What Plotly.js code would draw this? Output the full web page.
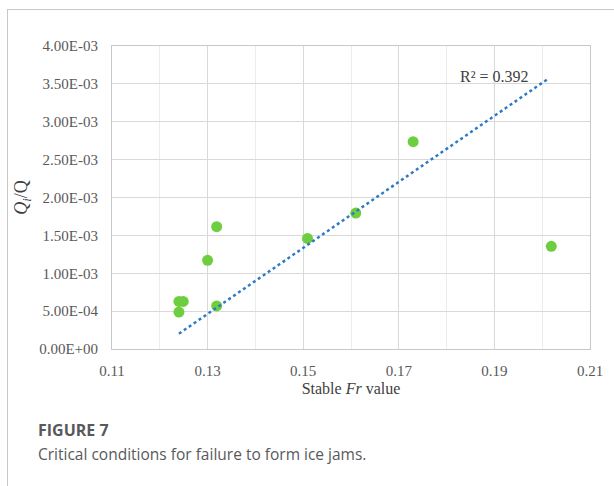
<!DOCTYPE html>
<html>
<head>
<meta charset="utf-8">
<script src="https://cdn.plot.ly/plotly-3.0.1.min.js"></script>
<style>
html,body{margin:0;padding:0;background:#fff;}
#wrap{position:relative;width:614px;height:486px;overflow:hidden;}
#frame{position:absolute;left:7px;top:9px;width:620px;height:500px;border-top:1px solid #c8c8c8;border-left:1px solid #c8c8c8;}
#chart{position:absolute;left:0;top:0;width:614px;height:486px;}
#figlab{position:absolute;left:38px;top:419px;font-family:"Open Sans",sans-serif;font-weight:bold;font-size:16px;color:#58595b;}
#cap{position:absolute;left:38px;top:443px;font-family:"Open Sans",sans-serif;font-size:15.5px;color:#58595b;}
</style>
</head>
<body>
<div id="wrap">
<div id="frame"></div>
<div id="chart"></div>
<div id="figlab">FIGURE 7</div>
<div id="cap">Critical conditions for failure to form ice jams.</div>
</div>
<script>
// Data
var frValues = [0.124, 0.124, 0.1249, 0.130, 0.1319, 0.1319, 0.1509, 0.161, 0.173, 0.2019];
var qRatio   = [0.000488, 0.000628, 0.000628, 0.00117, 0.001615, 0.000568, 0.00146, 0.001795, 0.002737, 0.001355];
var trendX = [0.124, 0.2013];
var trendY = [0.000202, 0.00357];
var yTickVals = [0, 0.0005, 0.001, 0.0015, 0.002, 0.0025, 0.003, 0.0035, 0.004];
var yTickText = ["0.00E+00","5.00E-04","1.00E-03","1.50E-03","2.00E-03","2.50E-03","3.00E-03","3.50E-03","4.00E-03"];
var xTickVals = [0.11, 0.13, 0.15, 0.17, 0.19, 0.21];
var xTickText = ["0.11","0.13","0.15","0.17","0.19","0.21"];
var r2Label = "R\u00B2 = 0.392";

var serif = "Liberation Serif, Times New Roman, serif";

var traces = [
  {x: frValues, y: qRatio, type: 'scatter', mode: 'markers',
   marker: {color: '#6dcf3f', size: 11}, hoverinfo: 'x+y', showlegend: false},
  {x: trendX, y: trendY, type: 'scatter', mode: 'lines',
   line: {color: '#2e7bc4', width: 2.5, dash: 'dot'}, showlegend: false}
];

var layout = {
  width: 614, height: 486,
  margin: {l: 112, r: 24, t: 46, b: 137},
  paper_bgcolor: 'rgba(0,0,0,0)',
  plot_bgcolor: '#fff',
  font: {family: serif, size: 15, color: '#595959'},
  xaxis: {
    range: [0.11, 0.21],
    tickvals: xTickVals, ticktext: xTickText,
    showgrid: true, gridcolor: '#d9d9d9', gridwidth: 1,
    minor: {dtick: 0.01, showgrid: true, gridcolor: '#ececec', gridwidth: 1, tick0: 0.11},
    showline: true, linecolor: '#c8c8c8', linewidth: 1, mirror: true,
    zeroline: false, ticks: 'outside', ticklen: 8, tickcolor: 'rgba(0,0,0,0)',
    tickfont: {family: serif, size: 15, color: '#595959'},
    title: {text: 'Stable <i>Fr</i> value', font: {family: serif, size: 16, color: '#404040'}, standoff: 4}
  },
  yaxis: {
    range: [0, 0.004],
    tickvals: yTickVals, ticktext: yTickText,
    showgrid: true, gridcolor: '#d9d9d9', gridwidth: 1,
    showline: true, linecolor: '#c8c8c8', linewidth: 1, mirror: true,
    zeroline: false, ticks: 'outside', ticklen: 10, tickcolor: 'rgba(0,0,0,0)',
    tickfont: {family: serif, size: 15, color: '#595959'},
    title: {text: '<i>Q<sub>i</sub></i>/Q', font: {family: serif, size: 18, color: '#404040'}, standoff: 6}
  },
  annotations: [
    {x: 0.19, y: 0.003595, xref: 'x', yref: 'y', text: r2Label, showarrow: false,
     font: {family: serif, size: 16, color: '#404040'}}
  ]
};

Plotly.newPlot('chart', traces, layout, {displayModeBar: false, staticPlot: true});
</script>
</body>
</html>
